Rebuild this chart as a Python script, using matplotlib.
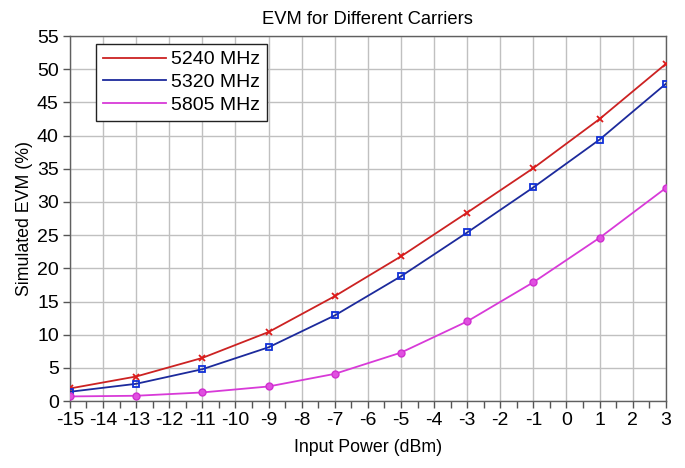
import numpy as np
import matplotlib.pyplot as plt
from matplotlib.ticker import MultipleLocator

plt.rcParams['font.family'] = ['Liberation Sans', 'DejaVu Sans']
plt.rcParams['axes.unicode_minus'] = False

# input power sweep (dBm) and simulated EVM (%) per carrier
power = [-15, -13, -11, -9, -7, -5, -3, -1, 1, 3]
evm_5240 = [1.9, 3.7, 6.5, 10.4, 15.8, 21.8, 28.4, 35.1, 42.5, 50.8]
evm_5320 = [1.4, 2.6, 4.8, 8.1, 12.9, 18.8, 25.4, 32.2, 39.4, 47.8]
evm_5805 = [0.7, 0.8, 1.3, 2.2, 4.1, 7.3, 12.0, 17.9, 24.6, 32.1]
labels = ['5240 MHz', '5320 MHz', '5805 MHz']

fig = plt.figure(figsize=(6.85, 4.68), dpi=100)
ax = fig.add_subplot(111)
fig.subplots_adjust(left=0.102, right=0.972, top=0.923, bottom=0.143)

ax.plot(power, evm_5240, color='#cc2222', lw=1.3, marker='x', ms=5,
        mew=1.3, mec='#dd1a1a', label=labels[0], zorder=3)
ax.plot(power, evm_5320, color='#1c2a9c', lw=1.3, marker='s', ms=5,
        mew=1.3, mfc='none', mec='#1030d8', label=labels[1], zorder=3)
ax.plot(power, evm_5805, color='#d83ad8', lw=1.3, marker='o', ms=5,
        mew=1.0, mfc='#e050e0', mec='#d030d0', label=labels[2], zorder=3)

ax.set_xlim(-15, 3)
ax.set_ylim(0, 55)
ax.xaxis.set_major_locator(MultipleLocator(1))
ax.xaxis.set_minor_locator(MultipleLocator(0.5))
ax.yaxis.set_major_locator(MultipleLocator(5))
ax.tick_params(axis='both', which='major', labelsize=14, length=5,
               width=1, color='#555555', pad=3)
ax.tick_params(axis='x', which='minor', length=5, width=1, color='#555555')
ax.grid(True, which='major', color='#c0c0c0', lw=1)
ax.set_axisbelow(True)
for sp in ax.spines.values():
    sp.set_color('#606060')
    sp.set_linewidth(1)

ax.set_title('EVM for Different Carriers', fontsize=13.2, pad=9)
ax.set_xlabel('Input Power (dBm)', fontsize=12.8, labelpad=7)
ax.set_ylabel('Simulated EVM (%)', fontsize=12.8, labelpad=3)

leg = ax.legend(loc='upper left', bbox_to_anchor=(0.044, 0.978),
                borderaxespad=0, fontsize=14, handlelength=3.25,
                handletextpad=0.25, borderpad=0.35, labelspacing=0.26,
                fancybox=False, framealpha=1, edgecolor='#222222')
leg.get_frame().set_linewidth(1)
for h in leg.legend_handles:
    h.set_marker('')

fig.savefig('out.png', dpi=100)
